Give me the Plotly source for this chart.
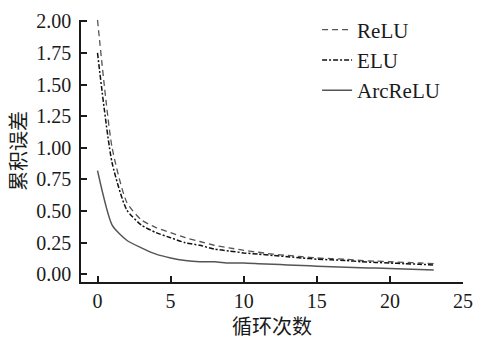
import plotly.graph_objects as go

# Cumulative error per training cycle for three activation functions
cycles = list(range(24))
relu = [2.01, 1.00, 0.57, 0.43, 0.37, 0.33, 0.29, 0.26, 0.23, 0.21, 0.19, 0.175,
        0.16, 0.15, 0.14, 0.13, 0.125, 0.12, 0.11, 0.105, 0.10, 0.095, 0.09, 0.085]
elu = [1.75, 0.88, 0.51, 0.39, 0.33, 0.29, 0.25, 0.23, 0.20, 0.185, 0.17, 0.16,
       0.15, 0.14, 0.13, 0.12, 0.115, 0.11, 0.10, 0.095, 0.09, 0.085, 0.08, 0.075]
arcrelu = [0.82, 0.39, 0.27, 0.21, 0.16, 0.13, 0.11, 0.10, 0.10, 0.09, 0.09, 0.085,
           0.08, 0.075, 0.07, 0.065, 0.06, 0.057, 0.053, 0.05, 0.046, 0.042, 0.038, 0.035]

x_ticks = [0, 5, 10, 15, 20, 25]
y_ticks = [0.0, 0.25, 0.5, 0.75, 1.0, 1.25, 1.5, 1.75, 2.0]

serif = "Liberation Serif, Times New Roman, serif"
cjk = "Noto Sans CJK SC"
ink = "#1a1a1a"

fig = go.Figure()
fig.add_trace(go.Scatter(x=cycles, y=relu, name="ReLU", mode="lines",
                         line=dict(color="#555555", width=1.3, dash="6px,4px", shape="spline", smoothing=0.6)))
fig.add_trace(go.Scatter(x=cycles, y=elu, name="ELU", mode="lines",
                         line=dict(color="#111111", width=1.5, dash="5px,2px,2px,2px", shape="spline", smoothing=0.6)))
fig.add_trace(go.Scatter(x=cycles, y=arcrelu, name="ArcReLU", mode="lines",
                         line=dict(color="#555555", width=1.5, shape="spline", smoothing=0.6)))

fig.update_layout(
    width=483, height=340,
    margin=dict(l=81, r=10, t=18, b=53),
    paper_bgcolor="white", plot_bgcolor="white",
    font=dict(family=serif, size=20, color=ink),
    showlegend=True,
    legend=dict(x=0.618, y=1.04, xanchor="left", yanchor="top",
                bgcolor="rgba(0,0,0,0)", font=dict(family=serif, size=21, color=ink),
                itemwidth=30, tracegroupgap=0),
    xaxis=dict(range=[-1.13, 25], tickvals=x_ticks, ticktext=[str(v) for v in x_ticks],
               ticks="inside", ticklen=6, tickwidth=1.5, tickcolor=ink,
               showline=True, linecolor=ink, linewidth=1.5, showgrid=False, zeroline=False,
               title=dict(text="循环次数", font=dict(family=cjk, size=20, color=ink), standoff=4)),
    yaxis=dict(range=[-0.06, 2.01], tickvals=y_ticks, ticktext=[f"{v:.2f}" for v in y_ticks],
               ticks="inside", ticklen=6, tickwidth=1.5, tickcolor=ink,
               showline=True, linecolor=ink, linewidth=1.5, showgrid=False, zeroline=False,
               ticklabelstandoff=4,
               title=dict(text="累积误差", font=dict(family=cjk, size=20, color=ink), standoff=4)),
)

fig.write_html("out.html")
